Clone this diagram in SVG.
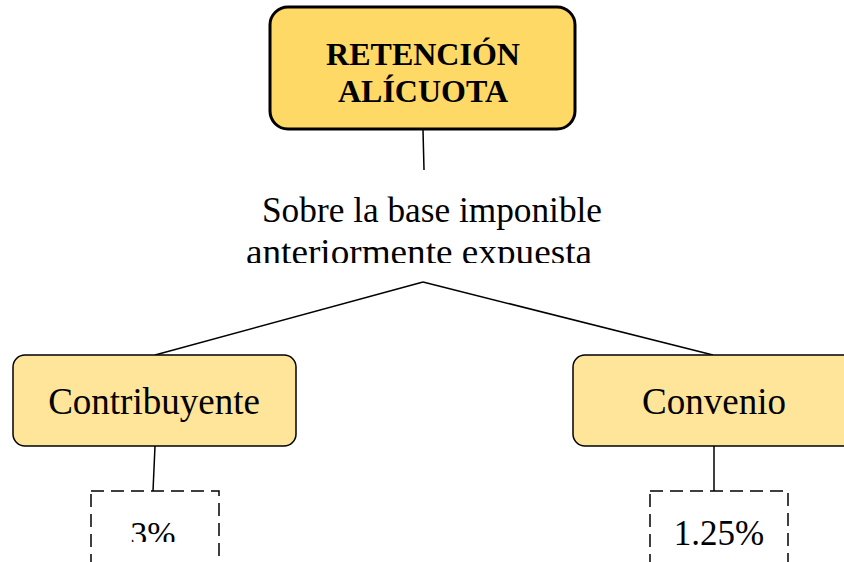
<svg xmlns="http://www.w3.org/2000/svg" width="844" height="562" viewBox="0 0 844 562">
<style>
.t{font-family:"Liberation Serif","Times New Roman",serif;fill:#000}
.lvl{fill:#FFE599;stroke:#000;stroke-width:1.5}
.dash{fill:#fff;stroke:#000;stroke-width:1.5;stroke-dasharray:13 7}
.con{stroke:#000;stroke-width:1.5;fill:none}
</style>
<defs>
<clipPath id="cutSub"><rect x="0" y="180" width="844" height="83"/></clipPath>
<clipPath id="cut3"><rect x="90" y="522" width="130" height="20"/></clipPath>
</defs>
<rect width="844" height="562" fill="#fff"/>
<g id="connectors">
<line class="con" x1="423" y1="130" x2="424" y2="170"/>
<line class="con" x1="423" y1="282" x2="155" y2="355"/>
<line class="con" x1="423" y1="282" x2="713" y2="355"/>
<line class="con" x1="155" y1="446" x2="153" y2="491"/>
<line class="con" x1="714" y1="446" x2="714" y2="491"/>
</g>
<g id="retencion">
<rect x="270" y="7" width="305" height="122" rx="18" fill="#FFD966" stroke="#000" stroke-width="3"/>
<text class="t" x="423" y="65" font-size="32" font-weight="bold" text-anchor="middle">RETENCIÓN</text>
<text class="t" x="423" y="102" font-size="32" font-weight="bold" text-anchor="middle">ALÍCUOTA</text>
</g>
<g id="base" clip-path="url(#cutSub)">
<text class="t" x="262" y="222" font-size="36" textLength="340" lengthAdjust="spacingAndGlyphs">Sobre la base imponible</text>
<text class="t" x="246" y="264" font-size="36" textLength="346" lengthAdjust="spacingAndGlyphs">anteriormente expuesta</text>
</g>
<g id="contribuyente">
<rect class="lvl" x="13" y="355" width="283" height="91" rx="12"/>
<text class="t" x="154" y="414" font-size="37" text-anchor="middle">Contribuyente</text>
</g>
<g id="convenio">
<rect class="lvl" x="573" y="355" width="285" height="91" rx="12"/>
<text class="t" x="714" y="414" font-size="37" text-anchor="middle">Convenio</text>
</g>
<g id="pct3">
<rect class="dash" x="91" y="491" width="128" height="90"/>
<text class="t" x="153" y="545" font-size="34" text-anchor="middle" clip-path="url(#cut3)">3%</text>
</g>
<g id="pct125">
<rect class="dash" x="650" y="491" width="138" height="90"/>
<text class="t" x="719" y="545" font-size="35" text-anchor="middle">1.25%</text>
</g>
</svg>
